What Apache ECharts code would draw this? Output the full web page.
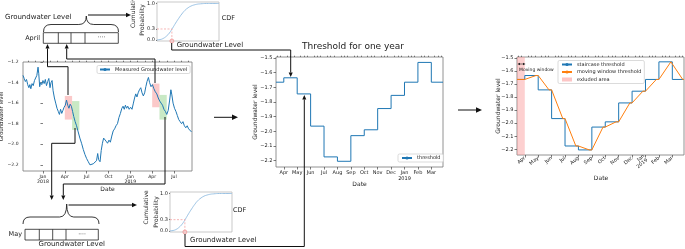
<!DOCTYPE html>
<html><head><meta charset="utf-8">
<script src="https://cdn.jsdelivr.net/npm/echarts@6/dist/echarts.min.js"></script>
<style>html,body{margin:0;padding:0;background:#fff}#c{width:685px;height:249px}</style>
</head><body><div id="c"></div>
<script>
// ---------------- DATA ----------------
const measuredDates = ['2017-10-09','2017-10-14','2017-10-19','2017-10-24','2017-10-29','2017-11-03','2017-11-07','2017-11-11','2017-11-16','2017-11-21','2017-11-26','2017-12-01','2017-12-06','2017-12-11','2017-12-14','2017-12-18','2017-12-22','2017-12-27','2018-01-01','2018-01-06','2018-01-11','2018-01-16','2018-01-21','2018-01-26','2018-01-31','2018-02-04','2018-02-08','2018-02-12','2018-02-17','2018-02-22','2018-02-27','2018-03-04','2018-03-09','2018-03-14','2018-03-19','2018-03-24','2018-03-29','2018-04-03','2018-04-08','2018-04-13','2018-04-18','2018-04-23','2018-04-28','2018-05-03','2018-05-08','2018-05-14','2018-05-20','2018-05-27','2018-06-03','2018-06-10','2018-06-17','2018-06-24','2018-07-01','2018-07-08','2018-07-15','2018-07-22','2018-07-29','2018-08-05','2018-08-12','2018-08-17','2018-08-21','2018-08-27','2018-09-01','2018-09-06','2018-09-11','2018-09-16','2018-09-21','2018-09-27','2018-10-03','2018-10-09','2018-10-15','2018-10-21','2018-10-27','2018-11-02','2018-11-08','2018-11-14','2018-11-20','2018-11-26','2018-12-01','2018-12-06','2018-12-11','2018-12-16','2018-12-21','2018-12-27','2019-01-02','2019-01-08','2019-01-14','2019-01-19','2019-01-24','2019-01-29','2019-02-03','2019-02-08','2019-02-13','2019-02-18','2019-02-23','2019-02-28','2019-03-05','2019-03-10','2019-03-16','2019-03-21','2019-03-27','2019-04-02','2019-04-08','2019-04-14','2019-04-20','2019-04-26','2019-05-02','2019-05-08','2019-05-14','2019-05-20','2019-05-26','2019-06-01','2019-06-07','2019-06-13','2019-06-18','2019-06-22','2019-06-27','2019-07-03','2019-07-09','2019-07-15','2019-07-21','2019-07-27','2019-08-02','2019-08-08','2019-08-14','2019-08-20','2019-08-26','2019-09-01','2019-09-07','2019-09-13'];
const measuredValues = [-1.33,-1.36,-1.39,-1.37,-1.42,-1.45,-1.42,-1.46,-1.41,-1.43,-1.38,-1.37,-1.33,-1.25,-1.31,-1.44,-1.40,-1.42,-1.38,-1.41,-1.37,-1.43,-1.39,-1.36,-1.45,-1.40,-1.38,-1.48,-1.55,-1.60,-1.65,-1.68,-1.71,-1.66,-1.70,-1.67,-1.64,-1.62,-1.57,-1.62,-1.65,-1.61,-1.63,-1.68,-1.73,-1.78,-1.82,-1.88,-1.94,-1.99,-2.05,-2.10,-2.14,-2.17,-2.20,-2.21,-2.19,-2.20,-2.16,-2.09,-2.15,-2.17,-2.06,-1.99,-1.94,-1.93,-1.97,-1.99,-1.96,-1.98,-1.92,-1.87,-1.85,-1.82,-1.80,-1.74,-1.70,-1.65,-1.63,-1.66,-1.62,-1.65,-1.63,-1.66,-1.64,-1.66,-1.60,-1.55,-1.51,-1.54,-1.50,-1.47,-1.45,-1.50,-1.53,-1.50,-1.44,-1.39,-1.35,-1.40,-1.44,-1.42,-1.46,-1.49,-1.51,-1.55,-1.58,-1.60,-1.62,-1.66,-1.68,-1.71,-1.67,-1.57,-1.47,-1.52,-1.60,-1.65,-1.68,-1.72,-1.76,-1.78,-1.80,-1.78,-1.82,-1.84,-1.82,-1.85,-1.86,-1.88];

// highlighted months in the measured series (month start, month end, low, high)
const hlStart = ['2018-04-01','2018-05-01','2019-04-01','2019-05-01'];
const hlEnd   = ['2018-05-01','2018-06-01','2019-05-01','2019-06-01'];
const hlLow   = [-1.76,-1.86,-1.64,-1.76];
const hlHigh  = [-1.53,-1.58,-1.41,-1.52];
const hlKind  = ['april','may','april','may'];

// staircase threshold (value holds from date on)
const stairDates  = ['2018-03-14','2018-04-01','2018-05-01','2018-06-01','2018-07-01','2018-08-01','2018-09-01','2018-10-01','2018-11-01','2018-12-01','2019-01-01','2019-02-01','2019-03-01','2019-03-28'];
const stairValues = [-1.665,-1.635,-1.745,-1.965,-2.175,-2.205,-2.03,-1.99,-1.845,-1.755,-1.665,-1.53,-1.665,-1.665];

// moving window threshold
const mwDates  = ['2018-03-14','2018-04-01','2018-04-26','2018-05-01','2018-05-26','2018-06-01','2018-06-26','2018-07-01','2018-07-26','2018-08-01','2018-08-26','2018-09-01','2018-09-26','2018-10-01','2018-10-26','2018-11-01','2018-11-26','2018-12-01','2018-12-26','2019-01-01','2019-01-26','2019-02-01','2019-02-26','2019-03-01','2019-03-25','2019-03-28'];
const mwValues = [-1.665,-1.665,-1.635,-1.635,-1.745,-1.745,-1.965,-1.965,-2.175,-2.175,-2.205,-2.205,-2.03,-2.03,-1.99,-1.99,-1.845,-1.845,-1.755,-1.755,-1.665,-1.665,-1.53,-1.53,-1.665,-1.665];
const excludedStart = '2018-03-14', excludedEnd = '2018-04-01';

// CDF sketch
const cdfX = [0,0.05,0.1,0.15,0.2,0.25,0.3,0.35,0.4,0.45,0.5,0.55,0.6,0.65,0.7,0.8,0.9,1.0];
const cdfY = [0,0.01,0.04,0.1,0.19,0.32,0.46,0.59,0.71,0.81,0.88,0.93,0.96,0.98,0.99,1.0,1.0,1.0];
const cdfProb = 0.3, cdfLevel = 0.24;

// tick labels
const yTicksMeasured = [-2.2,-2.0,-1.8,-1.6,-1.4,-1.2];
const yTicksThreshold = [-2.2,-2.1,-2.0,-1.9,-1.8,-1.7,-1.6,-1.5];
const cdfTicks = [0,0.3,1.0];
const monthNames = ['Jan','Feb','Mar','Apr','May','Jun','Jul','Aug','Sep','Oct','Nov','Dec'];

// ---------------- HELPERS ----------------
const FONT = 'DejaVu Sans';
function toM(d){const [y,m,dd]=d.split('-').map(Number);const dim=new Date(y,m,0).getDate();return (y-2018)*12+(m-1)+(dd-1)/dim;}
function monthLabel(v){const r=Math.round(v);const mi=((r%12)+12)%12;const yr=2018+Math.floor(r/12);return mi===0?('Jan\n'+yr):monthNames[mi];}
function fmtY(v){return (Math.round(v*10)/10).toFixed(1).replace('-','\u2212');}
function range(a,b,s){const o=[];for(let v=a;v<=b+1e-9;v+=s)o.push(+v.toFixed(4));return o;}

const lMin=toM('2017-10-09'), lMax=toM('2019-09-15');
const tMin=toM('2018-03-14'), tMax=toM('2019-03-28');
const yLMin=-2.26, yLMax=-1.2, yTMin=-2.244, yTMax=-1.493;

const AX = '#777';
const tickStyle = {color:'#444', width:0.7};
function baseX(grid,min,max,major,lab,extra){
  return Object.assign({type:'value',gridIndex:grid,min,max,axisLine:{show:false},splitLine:{show:false},
    axisTick:{show:true,length:2.5,lineStyle:tickStyle,customValues:major},
    axisLabel:Object.assign({customValues:major,formatter:monthLabel,fontSize:5,fontFamily:FONT,color:'#222',margin:3,lineHeight:5.5,hideOverlap:false},lab||{})},extra||{});
}
function minorX(grid,min,max,vals){
  return {type:'value',gridIndex:grid,min,max,axisLine:{show:false},splitLine:{show:false},
    axisTick:{show:true,length:1.3,lineStyle:tickStyle,customValues:vals},axisLabel:{show:false}};
}
function baseY(grid,min,max,ticks,lab,extra){
  return Object.assign({type:'value',gridIndex:grid,min,max,axisLine:{show:false},splitLine:{show:false},
    axisTick:{show:true,length:2.5,lineStyle:tickStyle,customValues:ticks},
    axisLabel:Object.assign({customValues:ticks,formatter:fmtY,fontSize:5,fontFamily:FONT,color:'#222',margin:3.5,hideOverlap:false},lab||{})},extra||{});
}
const weekly=[];for(let m=2;m<=15;m++){for(const f of [0.25,0.5,0.75])weekly.push(m+f);}

function arrow(points,head,col){
  head=head||4.5;col=col||'#111';const w=head*0.45;const n=points.length;
  const [x1,y1]=points[n-2],[x2,y2]=points[n-1];const dx=x2-x1,dy=y2-y1,L=Math.hypot(dx,dy),ux=dx/L,uy=dy/L;
  const bx=x2-ux*head,by=y2-uy*head;const line=points.slice(0,n-1).concat([[bx,by]]);
  return [{type:'polyline',shape:{points:line},style:{stroke:col,lineWidth:1,fill:null},z:100},
    {type:'polygon',shape:{points:[[x2,y2],[bx-uy*w,by+ux*w],[bx+uy*w,by-ux*w]]},style:{fill:col},z:100}];
}
function txt(s,x,y,size,align,rot){return {type:'text',x,y,rotation:rot||0,style:{text:s,fontSize:size,fontFamily:FONT,fill:'#222',align:align||'left',verticalAlign:'middle'},z:100};}
function ln(x1,y1,x2,y2,w){return {type:'line',shape:{x1,y1,x2,y2},style:{stroke:'#222',lineWidth:w||0.8},z:100};}
function rect(x,y,w,h){return {type:'rect',shape:{x,y,width:w,height:h},style:{stroke:'#222',lineWidth:0.8,fill:null},z:100};}
function qc(x1,y1,cx,cy,x2,y2){return {type:'bezierCurve',shape:{x1,y1,x2,y2,cpx1:cx,cpy1:cy},style:{stroke:'#222',lineWidth:0.9,fill:null},z:100};}
function brace(xa,xb,xc,yEnd,yMid,yTip){
  const r=yEnd-yMid;
  return [qc(xa,yEnd,xa,yMid,xa+r,yMid),ln(xa+r,yMid,xc-r,yMid,0.9),qc(xc-r,yMid,xc,yMid,xc,yTip),
          qc(xc,yTip,xc,yMid,xc+r,yMid),ln(xc+r,yMid,xb-r,yMid,0.9),qc(xb-r,yMid,xb,yMid,xb,yEnd)];
}

// ---------------- OPTION ----------------
const hlColors={april:'rgba(245,120,120,0.4)',may:'rgba(120,200,110,0.4)'};
const hlData=hlStart.map((s,i)=>[toM(s),toM(hlEnd[i]),hlLow[i],hlHigh[i],i]);

const gridStyle={show:true,borderColor:AX,borderWidth:0.8,backgroundColor:'transparent'};
const option={
  animation:false,
  textStyle:{fontFamily:FONT},
  grid:[
    Object.assign({left:23,top:62,width:169,height:109},gridStyle),
    Object.assign({left:276,top:57,width:167,height:110},gridStyle),
    Object.assign({left:517,top:57,width:167,height:98},gridStyle),
    Object.assign({left:157,top:2,width:62,height:39},gridStyle,{borderColor:'#bbb'}),
    Object.assign({left:170,top:192,width:62,height:40},gridStyle,{borderColor:'#bbb'})
  ],
  xAxis:[
    baseX(0,lMin,lMax,range(0,18,3),{fontSize:4.6,lineHeight:5,margin:3}),
    minorX(0,lMin,lMax,range(-2,20,1)),
    baseX(1,tMin,tMax,range(3,14,1),{}),
    minorX(1,tMin,tMax,weekly.filter(v=>v>tMin&&v<tMax)),
    baseX(2,tMin,tMax,range(3,14,1),{rotate:40,margin:2.5,lineHeight:5}),
    minorX(2,tMin,tMax,weekly.filter(v=>v>tMin&&v<tMax)),
    {type:'value',gridIndex:3,min:0,max:1,show:false},
    {type:'value',gridIndex:4,min:0,max:1,show:false}
  ],
  yAxis:[
    baseY(0,yLMin,yLMax,yTicksMeasured,{fontSize:4.5,margin:4.5}),
    baseY(1,yTMin,yTMax,yTicksThreshold,{}),
    baseY(2,yTMin,yTMax,yTicksThreshold,{}),
    baseY(3,-0.03,1.04,cdfTicks,{formatter:v=>v.toFixed(1),margin:2},{axisTick:{show:true,length:1,lineStyle:tickStyle,customValues:cdfTicks}}),
    baseY(4,-0.03,1.04,cdfTicks,{formatter:v=>v.toFixed(1),margin:2},{axisTick:{show:true,length:1,lineStyle:tickStyle,customValues:cdfTicks}})
  ],
  legend:[
    {data:['Measured Groundwater level'],left:97,top:65.5,selectedMode:false,itemWidth:10,itemHeight:4,itemGap:1,padding:[1.5,3,1.5,2],
      backgroundColor:'rgba(255,255,255,0.85)',borderColor:'#ccc',borderWidth:0.7,borderRadius:1.5,textStyle:{fontSize:5,fontFamily:FONT,color:'#222'}},
    {data:['threshold'],left:398,top:154,selectedMode:false,itemWidth:10,itemHeight:4,itemGap:1,padding:[1.5,3,1.5,3],
      backgroundColor:'rgba(255,255,255,0.85)',borderColor:'#ccc',borderWidth:0.7,borderRadius:1.5,textStyle:{fontSize:5,fontFamily:FONT,color:'#222'}},
    {data:['staircase threshold','moving window threshold',{name:'exluded area',icon:'rect',itemStyle:{color:'rgba(250,150,150,0.55)'}}],
      orient:'vertical',left:558,top:60.5,selectedMode:false,itemWidth:10,itemHeight:4,itemGap:2.5,padding:[1.5,3,1.5,3],
      backgroundColor:'rgba(255,255,255,0.85)',borderColor:'#ccc',borderWidth:0.7,borderRadius:1.5,textStyle:{fontSize:5,fontFamily:FONT,color:'#222'}}
  ],
  series:[
    {name:'monthBoxes',type:'custom',xAxisIndex:0,yAxisIndex:0,silent:true,z:1,data:hlData,
      renderItem:function(params,api){
        const p1=api.coord([api.value(0),api.value(3)]), p2=api.coord([api.value(1),api.value(2)]);
        return {type:'rect',shape:{x:p1[0],y:p1[1],width:p2[0]-p1[0],height:p2[1]-p1[1]},style:{fill:hlColors[hlKind[api.value(4)]]}};
      }},
    {name:'Measured Groundwater level',type:'line',xAxisIndex:0,yAxisIndex:0,symbol:'none',z:3,
      data:measuredDates.map((d,i)=>[toM(d),measuredValues[i]]),lineStyle:{color:'#1f77b4',width:1},itemStyle:{color:'#1f77b4'}},
    {name:'threshold',type:'line',step:'end',xAxisIndex:2,yAxisIndex:1,symbol:'none',
      data:stairDates.map((d,i)=>[toM(d),stairValues[i]]),lineStyle:{color:'#1f77b4',width:1},itemStyle:{color:'#1f77b4'}},
    {name:'exluded area',type:'line',xAxisIndex:4,yAxisIndex:2,symbol:'none',data:[],
      markArea:{silent:true,itemStyle:{color:'rgba(250,150,150,0.45)'},data:[[{xAxis:toM(excludedStart)},{xAxis:toM(excludedEnd)}]]}},
    {name:'staircase threshold',type:'line',step:'end',xAxisIndex:4,yAxisIndex:2,symbol:'none',
      data:stairDates.map((d,i)=>[toM(d),stairValues[i]]),lineStyle:{color:'#1f77b4',width:1},itemStyle:{color:'#1f77b4'}},
    {name:'moving window threshold',type:'line',xAxisIndex:4,yAxisIndex:2,symbol:'none',
      data:mwDates.map((d,i)=>[toM(d),mwValues[i]]),lineStyle:{color:'#ff7f0e',width:1},itemStyle:{color:'#ff7f0e'}},
    {name:'cdfTop',type:'line',smooth:true,xAxisIndex:6,yAxisIndex:3,symbol:'none',data:cdfX.map((x,i)=>[x,cdfY[i]]),lineStyle:{color:'#8fbbe0',width:0.9}},
    {name:'cdfTopGuide',type:'line',xAxisIndex:6,yAxisIndex:3,symbol:'none',data:[[0,cdfProb],[cdfLevel,cdfProb],[cdfLevel,0]],lineStyle:{color:'#f3a3a3',width:0.8,type:[2,1.5]}},
    {name:'cdfTopPt',type:'scatter',xAxisIndex:6,yAxisIndex:3,symbolSize:4,data:[[cdfLevel,-0.03]],itemStyle:{color:'rgba(255,170,170,0.5)',borderColor:'#e88',borderWidth:0.8},z:5},
    {name:'cdfBot',type:'line',smooth:true,xAxisIndex:7,yAxisIndex:4,symbol:'none',data:cdfX.map((x,i)=>[x,cdfY[i]]),lineStyle:{color:'#8fbbe0',width:0.9}},
    {name:'cdfBotGuide',type:'line',xAxisIndex:7,yAxisIndex:4,symbol:'none',data:[[0,cdfProb],[cdfLevel,cdfProb],[cdfLevel,0]],lineStyle:{color:'#f3a3a3',width:0.8,type:[2,1.5]}},
    {name:'cdfBotPt',type:'scatter',xAxisIndex:7,yAxisIndex:4,symbolSize:4,data:[[cdfLevel,-0.03]],itemStyle:{color:'rgba(255,170,170,0.5)',borderColor:'#e88',borderWidth:0.8},z:5}
  ]
};

const R90=Math.PI/2;
const els=[].concat(
  [txt('Groundwater level',1.6,116.5,5.4,'center',R90),txt('Date',107.5,189.5,6,'center'),
   txt('Groundwater level',255,112,6,'center',R90),txt('Date',359.5,184,6,'center'),
   txt('Groundwater level',498,106,6,'center',R90),txt('Date',601,178.5,6,'center')],
  [txt('Groundwater Level',5,17.5,7)],
  brace(43.5,118.5,86.3,32,24.5,16),
  [txt('April',40,38,6.5,'right'),rect(43.3,32.7,75,10.6),ln(58.3,32.7,58.3,43.3),ln(71,32.7,71,43.3),ln(85,32.7,85,43.3),
   txt('····',101.5,37.5,6,'center')],
  arrow([[88,15],[131,15]],5),
  arrow([[68,95],[68,66.7],[47.5,66.7],[47.5,44]],4.5),
  arrow([[155,83],[155,59],[66.7,59],[66.7,44]],4.5),
  arrow([[75,128],[75,143.3],[51.7,143.3],[51.7,200]],4.5),
  arrow([[165,117],[165,184],[63.3,184],[63.3,200]],4.5),
  brace(23,99,66.7,224,217,204),
  [txt('May',22,234.5,6.5,'right'),rect(25,229.3,73.3,10.7),ln(39.3,229.3,39.3,240),ln(52.7,229.3,52.7,240),ln(66,229.3,66,240),
   txt('····',82,234,6,'center'),txt('Groundwater Level',71.7,244.5,7,'center')],
  arrow([[68.5,205],[137,205]],5),
  [txt('CDF',221.7,18.5,6.5),txt('Groundwater Level',176.7,45.5,7),txt('Cumulative',133,11,6,'center',R90),txt('Probability',142.5,20,6,'center',R90)],
  arrow([[171.7,43],[171.7,50],[290.7,50],[290.7,77]],4.5),
  [txt('CDF',233,210.5,6.5),txt('Groundwater Level',190,240.5,7),txt('Cumulative',146.7,207.5,6,'center',R90),txt('Probability',156,212,6,'center',R90)],
  arrow([[185,234],[185,246.5],[304.3,246.5],[304.3,95]],4.5),
  arrow([[214,117.3],[238,117.3]],6),
  arrow([[458,110],[482,110]],6),
  [txt('Threshold for one year',353,46.7,9,'center')],
  [ln(518.5,64,524,64,0.6),
   {type:'polygon',shape:{points:[[517.5,64],[520,62.8],[520,65.2]]},style:{fill:'#222'},z:100},
   {type:'polygon',shape:{points:[[525.5,64],[523,62.8],[523,65.2]]},style:{fill:'#222'},z:100},
   txt('Moving window',519,69.5,4.5)]
);
option.graphic={elements:els};

const chart=echarts.init(document.getElementById('c'),null,{renderer:'canvas'});
chart.setOption(option);
</script></body></html>
